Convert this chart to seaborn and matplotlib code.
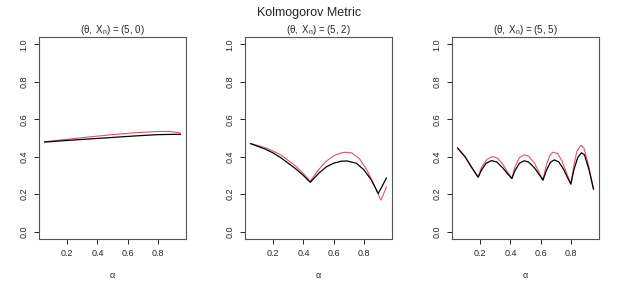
import numpy as np
import pandas as pd
import matplotlib
matplotlib.use("Agg")
import matplotlib.pyplot as plt
import seaborn as sns

# panel (theta, X_n) = (5, 0)
a1_black = [0.05, 0.20, 0.35, 0.50, 0.65, 0.80, 0.95]
v1_black = [0.478, 0.487, 0.495, 0.503, 0.511, 0.518, 0.520]
a1_red = [0.05, 0.20, 0.35, 0.50, 0.65, 0.80, 0.88, 0.95]
v1_red = [0.480, 0.493, 0.506, 0.518, 0.528, 0.535, 0.535, 0.527]

# panel (theta, X_n) = (5, 2)
a2_black = [0.05, 0.10, 0.15, 0.20, 0.25, 0.30, 0.35, 0.40, 0.445, 0.50, 0.55,
            0.60, 0.65, 0.69, 0.75, 0.80, 0.85, 0.895, 0.95]
v2_black = [0.470, 0.455, 0.440, 0.420, 0.395, 0.365, 0.335, 0.300, 0.263, 0.310,
            0.345, 0.365, 0.376, 0.377, 0.365, 0.330, 0.275, 0.203, 0.287]
a2_red = [0.05, 0.10, 0.15, 0.20, 0.25, 0.30, 0.35, 0.40, 0.445, 0.50, 0.55,
          0.60, 0.65, 0.68, 0.72, 0.77, 0.82, 0.87, 0.912, 0.95]
v2_red = [0.470, 0.460, 0.448, 0.430, 0.410, 0.380, 0.350, 0.310, 0.268, 0.330,
          0.375, 0.405, 0.420, 0.424, 0.420, 0.390, 0.330, 0.245, 0.168, 0.238]

# panel (theta, X_n) = (5, 5)
a3_black = [0.05, 0.10, 0.15, 0.187, 0.21, 0.24, 0.275, 0.31, 0.35, 0.38, 0.41,
            0.43, 0.46, 0.49, 0.52, 0.56, 0.59, 0.615, 0.64, 0.665, 0.69, 0.72,
            0.75, 0.78, 0.80, 0.82, 0.845, 0.87, 0.89, 0.92, 0.95]
v3_black = [0.447, 0.400, 0.335, 0.290, 0.330, 0.365, 0.379, 0.372, 0.340, 0.310,
            0.283, 0.325, 0.365, 0.378, 0.372, 0.340, 0.305, 0.274, 0.330, 0.370,
            0.383, 0.372, 0.335, 0.285, 0.253, 0.330, 0.395, 0.421, 0.410, 0.330,
            0.225]
a3_red = [0.05, 0.10, 0.15, 0.187, 0.21, 0.245, 0.28, 0.315, 0.35, 0.38, 0.41,
          0.43, 0.46, 0.49, 0.52, 0.56, 0.59, 0.615, 0.64, 0.66, 0.68, 0.71,
          0.74, 0.77, 0.80, 0.82, 0.84, 0.865, 0.885, 0.915, 0.95]
v3_red = [0.447, 0.400, 0.337, 0.292, 0.345, 0.385, 0.401, 0.393, 0.360, 0.320,
          0.285, 0.345, 0.395, 0.410, 0.403, 0.365, 0.315, 0.278, 0.360, 0.405,
          0.424, 0.418, 0.380, 0.315, 0.255, 0.355, 0.430, 0.460, 0.450, 0.360,
          0.228]

titles = [r"$(\theta,\ X_n)$ = (5, 0)", r"$(\theta,\ X_n)$ = (5, 2)",
          r"$(\theta,\ X_n)$ = (5, 5)"]
panels = [(a1_black, v1_black, a1_red, v1_red),
          (a2_black, v2_black, a2_red, v2_red),
          (a3_black, v3_black, a3_red, v3_red)]

sns.set_style("white")
plt.rcParams["font.family"] = ["Liberation Sans", "DejaVu Sans"]
plt.rcParams["mathtext.fontset"] = "custom"
plt.rcParams["mathtext.rm"] = "Liberation Sans"
plt.rcParams["mathtext.it"] = "Liberation Sans"

fig = plt.figure(figsize=(6.19, 2.88), dpi=100)
lefts = [39 / 619, 245 / 619, 452 / 619]
red = "#DF536B"

for i, (ab, vb, ar, vr) in enumerate(panels):
    ax = fig.add_axes([lefts[i], 49 / 288, 147 / 619, 202 / 288])
    df_b = pd.DataFrame({"alpha": ab, "value": vb})
    df_r = pd.DataFrame({"alpha": ar, "value": vr})
    sns.lineplot(data=df_r, x="alpha", y="value", color=red, lw=0.8, ax=ax)
    sns.lineplot(data=df_b, x="alpha", y="value", color="black", lw=0.9, ax=ax)
    ax.set_xlim(0.014, 0.986)
    ax.set_ylim(-0.04, 1.04)
    ax.set_xticks([0.2, 0.4, 0.6, 0.8])
    ax.set_yticks([0.0, 0.2, 0.4, 0.6, 0.8, 1.0])
    ax.set_xticklabels(["0.2", "0.4", "0.6", "0.8"])
    ax.set_yticklabels(["0.0", "0.2", "0.4", "0.6", "0.8", "1.0"],
                       rotation=90, va="center")
    ax.tick_params(axis="both", direction="out", length=3.5, width=0.6,
                   labelsize=6.5, pad=4, color="black", bottom=True, left=True)
    for s in ax.spines.values():
        s.set_color("#555555")
        s.set_linewidth(0.8)
        s.set_visible(True)
    ax.set_xlabel(r"$\alpha$", fontsize=6.5, labelpad=9)
    ax.set_ylabel("")
    ax.set_title(titles[i], fontsize=7, pad=3)

fig.suptitle("Kolmogorov Metric", fontsize=9, y=0.975)
fig.savefig("out.png", dpi=100)
